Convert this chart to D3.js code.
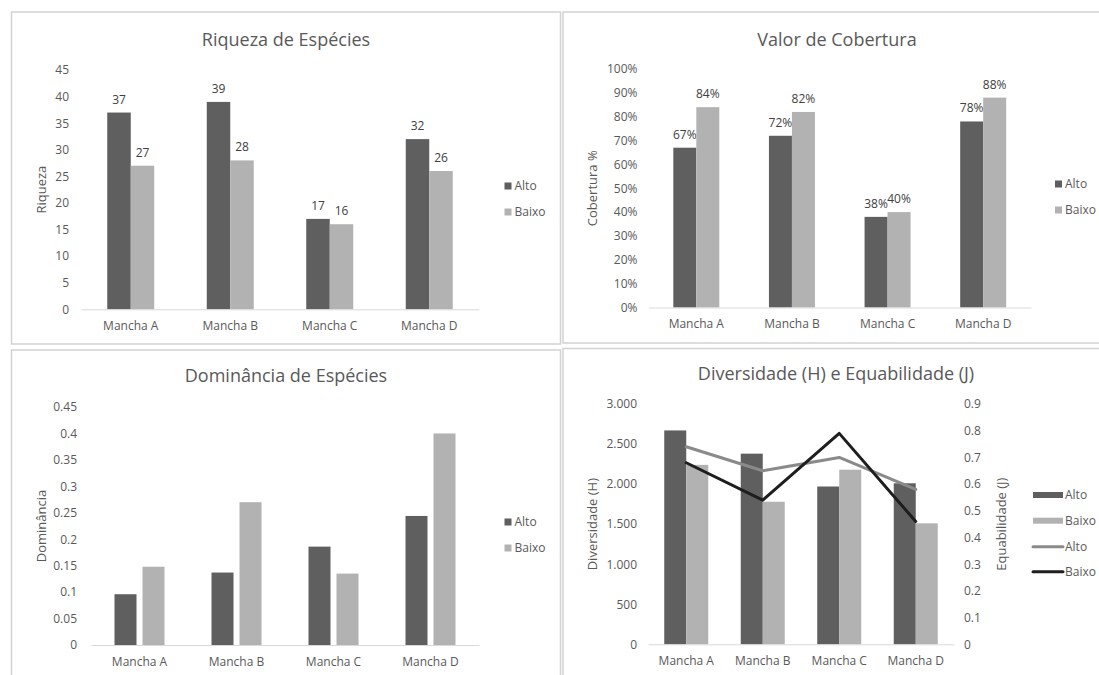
<!DOCTYPE html>
<html>
<head>
<meta charset="utf-8">
<script src="https://cdn.jsdelivr.net/npm/d3@7"></script>
<style>
  html, body { margin: 0; padding: 0; background: #fff; }
  svg { display: block; font-family: "Open Sans", sans-serif; }
</style>
</head>
<body>
<svg id="chart" width="1099" height="675"></svg>
<script>
// ---- data ----
const categories = ["Mancha A", "Mancha B", "Mancha C", "Mancha D"];
const seriesNames = ["Alto", "Baixo"];

const riquezaAlto = [37, 39, 17, 32];
const riquezaBaixo = [27, 28, 16, 26];
const riquezaTicks = [0, 5, 10, 15, 20, 25, 30, 35, 40, 45];

const coberturaAlto = [0.67, 0.72, 0.38, 0.78];
const coberturaBaixo = [0.84, 0.82, 0.40, 0.88];
const coberturaTicks = [0, 0.1, 0.2, 0.3, 0.4, 0.5, 0.6, 0.7, 0.8, 0.9, 1.0];

const dominanciaAlto = [0.096, 0.137, 0.186, 0.244];
const dominanciaBaixo = [0.148, 0.27, 0.135, 0.40];
const dominanciaTicks = [0, 0.05, 0.1, 0.15, 0.2, 0.25, 0.3, 0.35, 0.4, 0.45];

const diversidadeAlto = [2670, 2380, 1970, 2010];
const diversidadeBaixo = [2240, 1780, 2180, 1510];
const diversidadeTicks = [0, 500, 1000, 1500, 2000, 2500, 3000];

const equabilidadeAlto = [0.74, 0.65, 0.70, 0.58];
const equabilidadeBaixo = [0.68, 0.54, 0.79, 0.46];
const equabilidadeTicks = [0, 0.1, 0.2, 0.3, 0.4, 0.5, 0.6, 0.7, 0.8, 0.9];

// ---- styles ----
const BAR_DARK = "#5f5f5f";
const BAR_LIGHT = "#b2b2b2";
const LINE_GRAY = "#8a8a8a";
const LINE_BLACK = "#1e1e1e";
const TEXT = "#595959";
const AXIS = "#d9d9d9";
const FRAME = "#d2d2d2";
const barColors = [BAR_DARK, BAR_LIGHT];

const svg = d3.select("#chart");

const ptBR = d3.formatLocale({ decimal: ",", thousands: ".", grouping: [3], currency: ["", ""] });

function frame(x0, y0, x1, y1) {
  svg.append("rect")
    .attr("x", x0).attr("y", y0)
    .attr("width", x1 - x0).attr("height", y1 - y0)
    .attr("fill", "none").attr("stroke", FRAME).attr("stroke-width", 1.5);
}

function title(text, cx, baseline) {
  svg.append("text")
    .attr("x", cx).attr("y", baseline)
    .attr("text-anchor", "middle")
    .attr("font-size", 18).attr("fill", TEXT)
    .text(text);
}

function axisTitle(text, cx, cy) {
  svg.append("text")
    .attr("transform", `translate(${cx},${cy}) rotate(-90)`)
    .attr("text-anchor", "middle")
    .attr("dy", "0.35em")
    .attr("font-size", 13).attr("fill", TEXT)
    .text(text);
}

function styleAxis(g) {
  g.selectAll("text").attr("fill", TEXT).attr("font-size", 12).attr("font-family", "Open Sans");
}

function xAxis(x, y0) {
  const g = svg.append("g")
    .attr("transform", `translate(0,${y0})`)
    .call(d3.axisBottom(x).tickSize(0).tickSizeOuter(0).tickPadding(12));
  g.select(".domain").attr("stroke", AXIS).attr("stroke-width", 1);
  styleAxis(g);
}

function yAxis(y, xPos, ticks, fmt, pad, right) {
  const ax = (right ? d3.axisRight(y) : d3.axisLeft(y))
    .tickValues(ticks).tickFormat(fmt).tickSize(0).tickPadding(pad);
  const g = svg.append("g").attr("transform", `translate(${xPos},0)`).call(ax);
  g.select(".domain").remove();
  styleAxis(g);
}

function squareLegend(x, y0, dy) {
  seriesNames.forEach((name, i) => {
    svg.append("rect")
      .attr("x", x).attr("y", y0 + i * dy - 3.5)
      .attr("width", 7).attr("height", 7)
      .attr("fill", barColors[i]);
    svg.append("text")
      .attr("x", x + 10).attr("y", y0 + i * dy)
      .attr("dy", "0.35em")
      .attr("font-size", 12).attr("fill", TEXT)
      .text(name);
  });
}

// Grouped bar panel
function barPanel(cfg) {
  const x = d3.scaleBand().domain(categories).range([cfg.left, cfg.right]);
  const y = d3.scaleLinear().domain([0, cfg.max]).range([cfg.bottom, cfg.top]);
  const sub = d3.scaleBand().domain(seriesNames)
    .range([-cfg.group / 2, cfg.group / 2]).paddingInner(cfg.innerPad || 0);

  title(cfg.title, cfg.titleX, cfg.titleY);
  axisTitle(cfg.yTitle, cfg.yTitleX, (cfg.top + cfg.bottom) / 2);
  yAxis(y, cfg.left, cfg.ticks, cfg.tickFormat, cfg.tickPad, false);

  cfg.series.forEach((vals, si) => {
    const g = svg.append("g");
    g.selectAll("rect").data(vals).join("rect")
      .attr("x", (d, i) => x(categories[i]) + x.bandwidth() / 2 + sub(seriesNames[si]))
      .attr("width", sub.bandwidth())
      .attr("y", d => y(d))
      .attr("height", d => cfg.bottom - y(d))
      .attr("fill", barColors[si]);
    if (cfg.labelFormat) {
      g.selectAll("text").data(vals).join("text")
        .attr("x", (d, i) => x(categories[i]) + x.bandwidth() / 2 + sub(seriesNames[si]) + sub.bandwidth() / 2)
        .attr("y", d => y(d) - 9)
        .attr("text-anchor", "middle")
        .attr("font-size", 12).attr("fill", "#404040")
        .text(cfg.labelFormat);
    }
  });

  xAxis(x, cfg.bottom);
  squareLegend(cfg.legendX, cfg.legendY, 26);
  return { x, y, sub };
}

// ---- frames ----
frame(11.5, 12, 560.5, 344);
frame(563, 12, 1115, 343);
frame(11.5, 350, 560.5, 690);
frame(563, 348.5, 1115, 690);

// ---- Riqueza de Espécies ----
barPanel({
  title: "Riqueza de Espécies", titleX: 286, titleY: 46,
  left: 81, right: 479, top: 70, bottom: 309.3, max: 45,
  ticks: riquezaTicks, tickFormat: d3.format("d"), tickPad: 12,
  yTitle: "Riqueza", yTitleX: 41,
  series: [riquezaAlto, riquezaBaixo], group: 47,
  labelFormat: d => d3.format("d")(d),
  legendX: 504.5, legendY: 186
});

// ---- Valor de Cobertura ----
barPanel({
  title: "Valor de Cobertura", titleX: 837, titleY: 46,
  left: 648.5, right: 1031, top: 69, bottom: 307.5, max: 1,
  ticks: coberturaTicks, tickFormat: d3.format(".0%"), tickPad: 11,
  yTitle: "Cobertura %", yTitleX: 592.5,
  series: [coberturaAlto, coberturaBaixo], group: 46,
  labelFormat: d => d3.format(".0%")(d),
  legendX: 1055, legendY: 184
});

// ---- Dominância de Espécies ----
barPanel({
  title: "Dominância de Espécies", titleX: 286, titleY: 382,
  left: 91, right: 479, top: 407, bottom: 645, max: 0.45,
  ticks: dominanciaTicks, tickFormat: d => String(d), tickPad: 14,
  yTitle: "Dominância", yTitleX: 41,
  series: [dominanciaAlto, dominanciaBaixo], group: 50, innerPad: 0.214,
  labelFormat: null,
  legendX: 504.5, legendY: 522
});

// ---- Diversidade (H) e Equabilidade (J) ----
(function () {
  const left = 648, right = 954, top = 404, bottom = 644.3;
  const x = d3.scaleBand().domain(categories).range([left, right]);
  const yH = d3.scaleLinear().domain([0, 3000]).range([bottom, top]);
  const yJ = d3.scaleLinear().domain([0, 0.9]).range([bottom, top]);
  const sub = d3.scaleBand().domain(seriesNames).range([-22, 22]);
  const cx = c => x(c) + x.bandwidth() / 2;

  title("Diversidade (H) e Equabilidade (J)", 836, 380);
  axisTitle("Diversidade (H)", 592.5, (top + bottom) / 2);
  axisTitle("Equabilidade (J)", 1001, (top + bottom) / 2);
  yAxis(yH, left, diversidadeTicks, ptBR.format(",.0f"), 11, false);
  yAxis(yJ, right, equabilidadeTicks, d => String(d), 10, true);

  [diversidadeAlto, diversidadeBaixo].forEach((vals, si) => {
    svg.append("g").selectAll("rect").data(vals).join("rect")
      .attr("x", (d, i) => cx(categories[i]) + sub(seriesNames[si]))
      .attr("width", sub.bandwidth())
      .attr("y", d => yH(d))
      .attr("height", d => bottom - yH(d))
      .attr("fill", barColors[si]);
  });

  xAxis(x, bottom);

  const line = d3.line()
    .x((d, i) => cx(categories[i]))
    .y(d => yJ(d));
  const lineColors = [LINE_GRAY, LINE_BLACK];
  [equabilidadeAlto, equabilidadeBaixo].forEach((vals, si) => {
    svg.append("path")
      .datum(vals)
      .attr("d", line)
      .attr("fill", "none")
      .attr("stroke", lineColors[si])
      .attr("stroke-width", 3)
      .attr("stroke-linejoin", "round")
      .attr("stroke-linecap", "round");
  });

  // legend: two bar entries then two line entries
  const lx = 1033, lw = 30, ly = [495, 520.7, 546.7, 571.7];
  seriesNames.forEach((name, i) => {
    svg.append("rect")
      .attr("x", lx).attr("y", ly[i] - 3)
      .attr("width", lw).attr("height", 6)
      .attr("fill", barColors[i]);
    svg.append("text")
      .attr("x", lx + lw + 2).attr("y", ly[i]).attr("dy", "0.35em")
      .attr("font-size", 12).attr("fill", TEXT).text(name);
  });
  seriesNames.forEach((name, i) => {
    svg.append("line")
      .attr("x1", lx).attr("x2", lx + lw)
      .attr("y1", ly[i + 2]).attr("y2", ly[i + 2])
      .attr("stroke", lineColors[i]).attr("stroke-width", 3)
      .attr("stroke-linecap", "round");
    svg.append("text")
      .attr("x", lx + lw + 2).attr("y", ly[i + 2]).attr("dy", "0.35em")
      .attr("font-size", 12).attr("fill", TEXT).text(name);
  });
})();
</script>
</body>
</html>
